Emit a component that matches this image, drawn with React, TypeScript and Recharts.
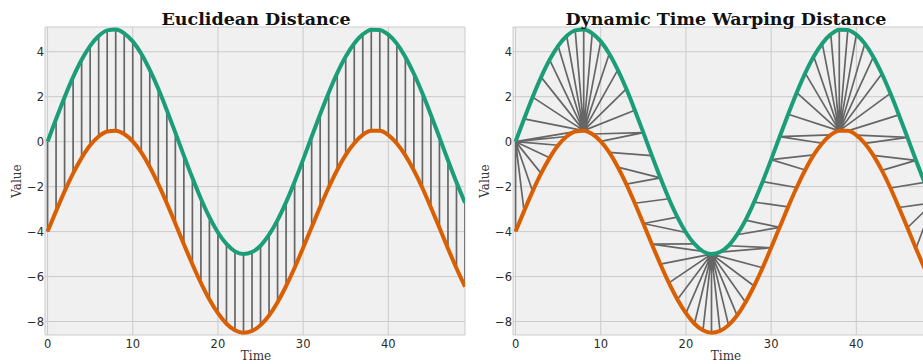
import React from 'react';
import { ComposedChart, Line, XAxis, YAxis, CartesianGrid } from 'recharts';

// Time steps
const time = [
  0, 1, 2, 3, 4, 5, 6, 7, 8, 9, 10, 11, 12, 13, 14, 15, 16, 17, 18, 19, 20, 21, 22, 23, 24,
  25, 26, 27, 28, 29, 30, 31, 32, 33, 34, 35, 36, 37, 38, 39, 40, 41, 42, 43, 44, 45, 46, 47, 48, 49,
];

// Upper (green) series
const seriesTop = [
  0.0, 1.01, 1.98, 2.87, 3.64, 4.26, 4.7, 4.95, 4.99, 4.82, 4.46, 3.91, 3.19, 2.35, 1.4, 0.4,
  -0.62, -1.61, -2.54, -3.36, -4.04, -4.55, -4.88, -5.0, -4.91, -4.63, -4.14, -3.49, -2.69, -1.78,
  -0.8, 0.22, 1.22, 2.18, 3.05, 3.79, 4.37, 4.77, 4.98, 4.97, 4.76, 4.36, 3.77, 3.02, 2.15, 1.19,
  0.19, -0.83, -1.81, -2.72,
];

// Lower (orange) series
const seriesBottom = [
  -4.0, -3.09, -2.21, -1.41, -0.72, -0.16, 0.23, 0.45, 0.49, 0.34, 0.01, -0.48, -1.13, -1.89,
  -2.74, -3.64, -4.56, -5.45, -6.28, -7.02, -7.63, -8.1, -8.39, -8.5, -8.42, -8.16, -7.73, -7.14,
  -6.42, -5.61, -4.72, -3.81, -2.9, -2.04, -1.26, -0.59, -0.07, 0.3, 0.48, 0.48, 0.29, -0.08,
  -0.61, -1.28, -2.06, -2.93, -3.83, -4.75, -5.63, -6.45,
];

// Warping path: [index in top series, index in bottom series]
const dtwPath: [number, number][] = [
  [0, 0], [0, 1], [0, 2], [0, 3], [0, 4], [0, 5], [0, 6], [0, 7],
  [1, 8], [2, 8], [3, 8], [4, 8], [5, 8], [6, 8], [7, 8], [8, 8], [9, 8], [10, 8], [11, 8],
  [12, 8], [13, 8], [14, 8],
  [15, 9], [15, 10], [16, 11], [17, 12], [17, 13], [18, 14], [19, 15], [20, 15], [21, 16], [22, 16],
  [23, 17], [23, 18], [23, 19], [23, 20], [23, 21], [23, 22], [23, 23], [23, 24], [23, 25],
  [23, 26], [23, 27], [23, 28], [23, 29],
  [24, 30], [25, 30], [26, 31], [27, 31], [28, 32], [29, 33], [30, 34], [30, 35], [31, 36], [31, 37],
  [32, 38], [33, 38], [34, 38], [35, 38], [36, 38], [37, 38], [38, 38], [39, 38], [40, 38],
  [41, 38], [42, 38], [43, 38], [44, 38],
  [45, 39], [46, 40], [46, 41], [47, 42], [47, 43], [48, 44], [49, 45], [49, 46], [49, 47],
  [49, 48], [49, 49],
];

const xTicks = [0, 10, 20, 30, 40];
const yTicks = [-8, -6, -4, -2, 0, 2, 4];
const xDomain: [number, number] = [-0.3, 49];
const yDomain: [number, number] = [-8.6, 5.1];

const GREEN = '#1b9e77';
const ORANGE = '#d95f02';
const LINK = '#666666';

const topData = time.map((t, k) => ({ x: t, y: seriesTop[k] }));
const bottomData = time.map((t, k) => ({ x: t, y: seriesBottom[k] }));

const euclidLinks = time.flatMap((t, k) => [
  { x: t, y: seriesTop[k] },
  { x: t, y: seriesBottom[k] },
  { x: t, y: null },
]);

const dtwLinks = dtwPath.flatMap(([i, j]) => [
  { x: time[i], y: seriesTop[i] },
  { x: time[j], y: seriesBottom[j] },
  { x: time[j], y: null },
]);

const fmt = (v: number) => (v < 0 ? '\u2212' + Math.abs(v) : String(v));

const tickStyle = { fill: '#2a2a2a', fontSize: 11.5, fontFamily: 'DejaVu Sans' };

function Panel({ links }: { links: { x: number; y: number | null }[] }) {
  return (
    <ComposedChart width={480} height={364} margin={{ top: 27, right: 15, bottom: 0, left: 0 }}>
      <CartesianGrid fill="#f0f0f0" stroke="#cbcbcb" strokeWidth={1} />
      <XAxis
        dataKey="x"
        type="number"
        domain={xDomain}
        ticks={xTicks}
        allowDataOverflow
        interval={0}
        height={29}
        tickLine={false}
        axisLine={false}
        tickSize={0}
        tickMargin={5}
        tick={tickStyle}
        tickFormatter={fmt}
      />
      <YAxis
        type="number"
        domain={yDomain}
        ticks={yTicks}
        allowDataOverflow
        interval={0}
        width={45}
        tickLine={false}
        axisLine={false}
        tickSize={0}
        tickMargin={1}
        tick={tickStyle}
        tickFormatter={fmt}
      />
      <Line
        data={links}
        dataKey="y"
        type="linear"
        stroke={LINK}
        strokeWidth={1.7}
        dot={false}
        activeDot={false}
        connectNulls={false}
        isAnimationActive={false}
      />
      <Line
        data={bottomData}
        dataKey="y"
        type="monotone"
        stroke={ORANGE}
        strokeWidth={4}
        dot={false}
        activeDot={false}
        isAnimationActive={false}
      />
      <Line
        data={topData}
        dataKey="y"
        type="monotone"
        stroke={GREEN}
        strokeWidth={4}
        dot={false}
        activeDot={false}
        isAnimationActive={false}
      />
    </ComposedChart>
  );
}

export default function App() {
  return (
    <div
      style={{
        position: 'fixed',
        left: 0,
        top: 0,
        width: 923,
        height: 364,
        overflow: 'hidden',
        background: '#ffffff',
      }}
    >
      <div style={{ position: 'absolute', left: 0, top: 0 }}>
        <Panel links={euclidLinks} />
      </div>
      <div style={{ position: 'absolute', left: 468, top: 0 }}>
        <Panel links={dtwLinks} />
      </div>
      <svg
        width={923}
        height={364}
        style={{ position: 'absolute', left: 0, top: 0, pointerEvents: 'none' }}
      >
        <g fontFamily="DejaVu Serif" fill="#111111">
          <text x={256} y={25} textAnchor="middle" fontSize={17.5} fontWeight="bold">
            Euclidean Distance
          </text>
          <text x={726} y={25} textAnchor="middle" fontSize={17.5} fontWeight="bold">
            Dynamic Time Warping Distance
          </text>
        </g>
        <g fontFamily="DejaVu Serif" fill="#333333" fontSize={12}>
          <text x={17} y={181} textAnchor="middle" dominantBaseline="central" transform="rotate(-90 17 181)">
            Value
          </text>
          <text x={485} y={181} textAnchor="middle" dominantBaseline="central" transform="rotate(-90 485 181)">
            Value
          </text>
          <text x={256} y={360} textAnchor="middle">
            Time
          </text>
          <text x={726} y={360} textAnchor="middle">
            Time
          </text>
        </g>
      </svg>
    </div>
  );
}
